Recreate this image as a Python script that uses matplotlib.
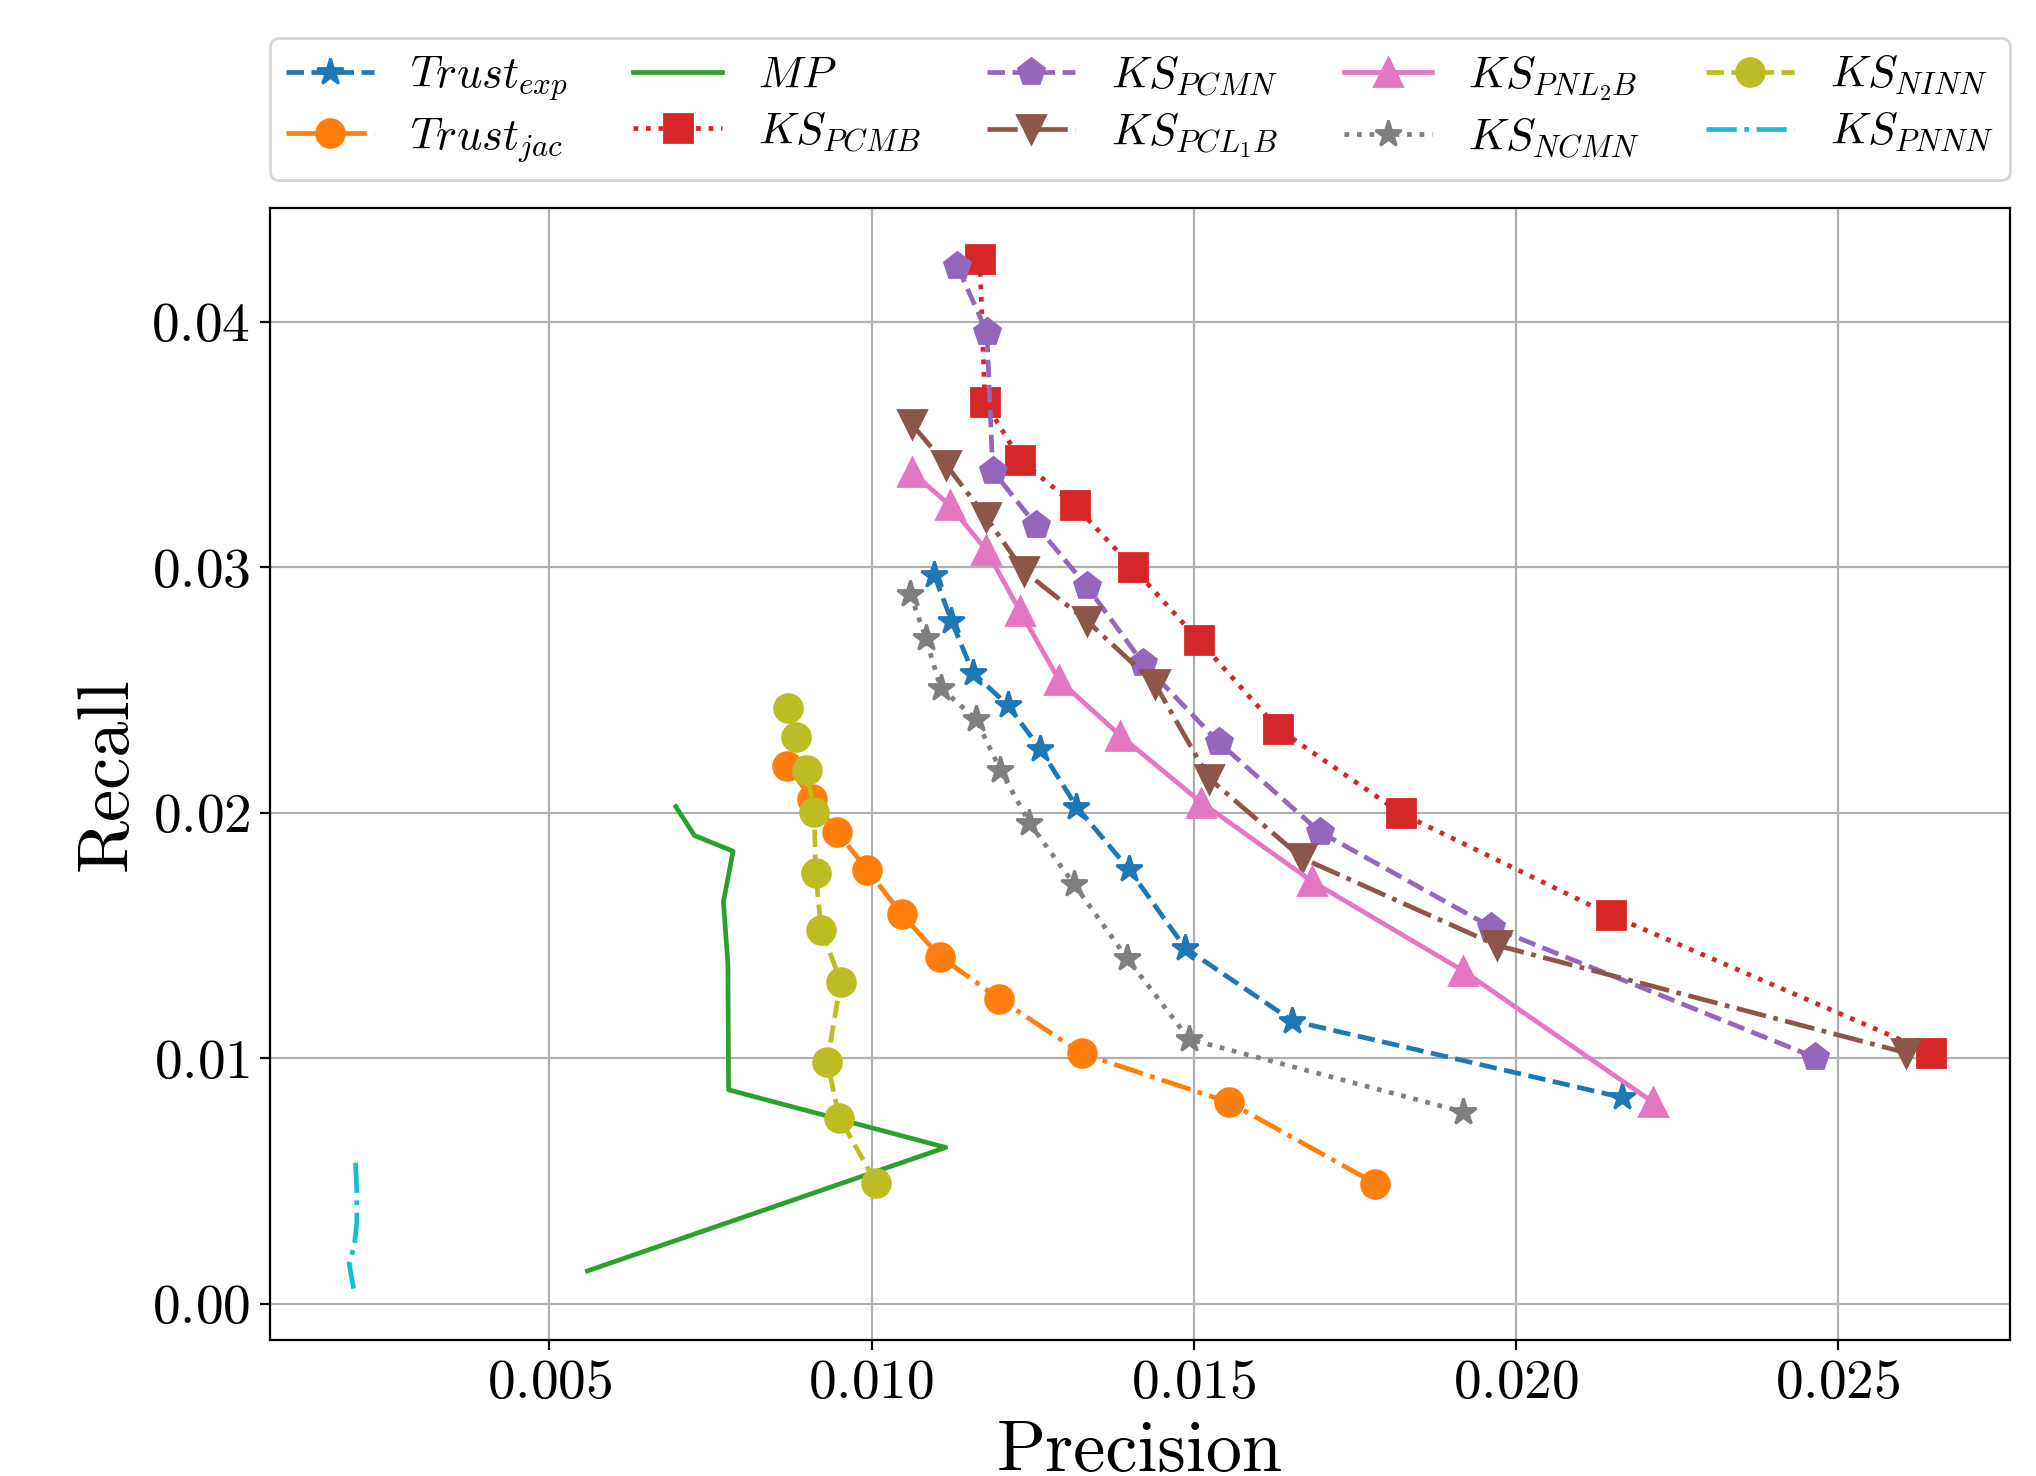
import matplotlib
matplotlib.use("Agg")
import matplotlib.pyplot as plt

# precision / recall curves for each method
trust_exp_p = [0.01097, 0.01124, 0.01157, 0.01211, 0.01262, 0.01318, 0.01399, 0.01487, 0.01653, 0.02164]
trust_exp_r = [0.0297, 0.02783, 0.02572, 0.0244, 0.0226, 0.02026, 0.01772, 0.01449, 0.01153, 0.00841]

trust_jac_p = [0.00869, 0.00908, 0.00947, 0.00993, 0.01047, 0.01106, 0.01198, 0.01326, 0.01555, 0.01782]
trust_jac_r = [0.02192, 0.02057, 0.01921, 0.01769, 0.01587, 0.01415, 0.01243, 0.0102, 0.00821, 0.0049]

mp_p = [0.00696, 0.00725, 0.00785, 0.0077, 0.00777, 0.00778, 0.01115, 0.00559]
mp_r = [0.02026, 0.01908, 0.01844, 0.01638, 0.01384, 0.00872, 0.00637, 0.00134]

pcmb_p = [0.01168, 0.01176, 0.01231, 0.01315, 0.01405, 0.01508, 0.01631, 0.01822, 0.02147, 0.02644]
pcmb_r = [0.04255, 0.03673, 0.03438, 0.03254, 0.03001, 0.02703, 0.02343, 0.01998, 0.01584, 0.01023]

pcmn_p = [0.01133, 0.01179, 0.01188, 0.01255, 0.01334, 0.01421, 0.01539, 0.01696, 0.01961, 0.02464]
pcmn_r = [0.04228, 0.03958, 0.03394, 0.03173, 0.02923, 0.02611, 0.02287, 0.01922, 0.01536, 0.01004]

pcl1b_p = [0.01062, 0.01116, 0.01177, 0.01236, 0.01334, 0.0144, 0.01524, 0.01668, 0.0197, 0.02605]
pcl1b_r = [0.03585, 0.03417, 0.03207, 0.02986, 0.02783, 0.02525, 0.0214, 0.01816, 0.01461, 0.01023]

pnl2b_p = [0.01062, 0.01121, 0.01178, 0.0123, 0.01291, 0.01386, 0.01512, 0.01683, 0.01918, 0.02212]
pnl2b_r = [0.0339, 0.03254, 0.03071, 0.02824, 0.02541, 0.02315, 0.02042, 0.01722, 0.01357, 0.00823]

ncmn_p = [0.0106, 0.01084, 0.01107, 0.01162, 0.012, 0.01245, 0.01314, 0.01396, 0.01493, 0.01918]
ncmn_r = [0.02892, 0.02713, 0.0251, 0.02381, 0.02175, 0.01959, 0.0171, 0.0141, 0.01078, 0.00782]

ninn_p = [0.0087, 0.00883, 0.00899, 0.00911, 0.00913, 0.00922, 0.00952, 0.00931, 0.0095, 0.01007]
ninn_r = [0.02428, 0.0231, 0.02175, 0.02004, 0.01756, 0.01524, 0.01313, 0.00984, 0.00759, 0.00493]

pnnn_p = [0.00199, 0.00201, 0.00201, 0.00197, 0.00189, 0.00196]
pnnn_r = [0.00575, 0.00457, 0.00328, 0.00235, 0.00165, 0.00062]

plt.rcParams["font.family"] = "serif"
plt.rcParams["font.serif"] = ["cmr10"]
plt.rcParams["mathtext.fontset"] = "cm"
plt.rcParams["axes.formatter.use_mathtext"] = True

fig, ax = plt.subplots(figsize=(10.18, 7.38), dpi=200)
fig.subplots_adjust(left=0.1326, right=0.9872, top=0.8591, bottom=0.0921)

lw = 1.7
ms = 10
ax.plot(trust_exp_p, trust_exp_r, "--", marker="*", lw=lw, ms=ms, label=r"$Trust_{exp}$")
ax.plot(trust_jac_p, trust_jac_r, "-.", marker="o", lw=lw, ms=ms, label=r"$Trust_{jac}$")
ax.plot(mp_p, mp_r, "-", lw=lw, label=r"$MP$")
ax.plot(pcmb_p, pcmb_r, ":", marker="s", lw=lw, ms=ms, label=r"$KS_{PCMB}$")
ax.plot(pcmn_p, pcmn_r, "--", marker="p", lw=lw, ms=ms, label=r"$KS_{PCMN}$")
ax.plot(pcl1b_p, pcl1b_r, "-.", marker="v", lw=lw, ms=ms, label=r"$KS_{PCL_1B}$")
ax.plot(pnl2b_p, pnl2b_r, "-", marker="^", lw=lw, ms=ms, label=r"$KS_{PNL_2B}$")
ax.plot(ncmn_p, ncmn_r, ":", marker="*", lw=lw, ms=ms, label=r"$KS_{NCMN}$")
ax.plot(ninn_p, ninn_r, "--", marker="o", lw=lw, ms=ms, label=r"$KS_{NINN}$")
ax.plot(pnnn_p, pnnn_r, "-.", lw=lw, label=r"$KS_{PNNN}$")

ax.grid(True)
ax.tick_params(labelsize=20)
ax.set_xlabel("Precision", fontsize=26)
ax.set_ylabel("Recall", fontsize=26)

ax.legend(ncol=5, loc="lower left", bbox_to_anchor=(0, 1.025, 1, 0.1),
          mode="expand", borderaxespad=0, fontsize=16,
          labelspacing=0.3, borderpad=0.35)

fig.savefig("out.png", dpi=200)
